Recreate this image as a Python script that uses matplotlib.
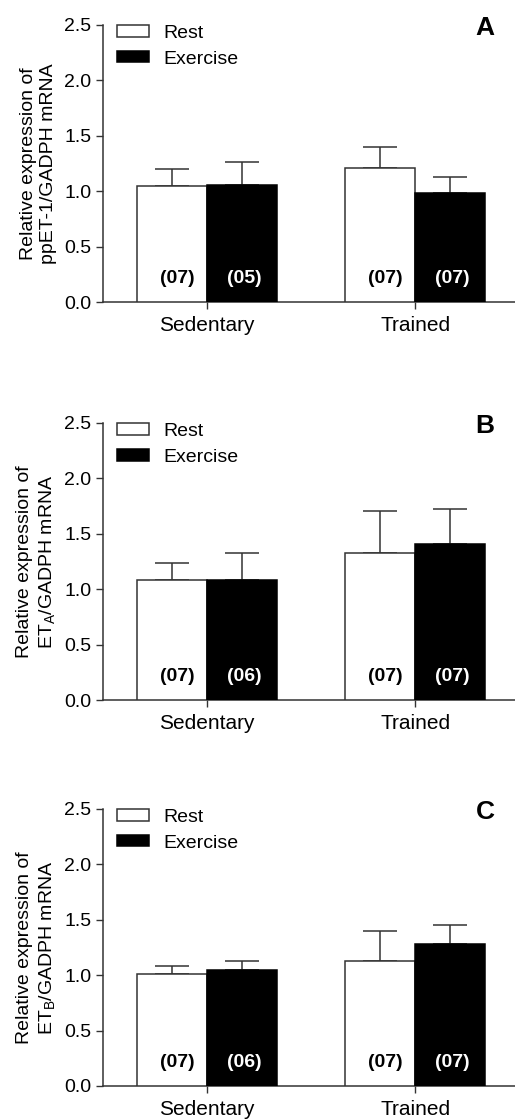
import numpy as np
import matplotlib
matplotlib.use('Agg')
import matplotlib.pyplot as plt

plt.rcParams['font.family'] = ['Liberation Sans', 'DejaVu Sans']
plt.rcParams['mathtext.fontset'] = 'custom'
plt.rcParams['mathtext.rm'] = 'Liberation Sans'
plt.rcParams['mathtext.it'] = 'Liberation Sans:italic'

# Datos
groups = ['Sedentary', 'Trained']

rest_A = [1.05, 1.21]
rest_A_err = [0.15, 0.19]
ex_A = [1.06, 0.98]
ex_A_err = [0.20, 0.15]
n_rest_A = ['(07)', '(07)']
n_ex_A = ['(05)', '(07)']

rest_B = [1.08, 1.33]
rest_B_err = [0.16, 0.38]
ex_B = [1.08, 1.41]
ex_B_err = [0.25, 0.31]
n_rest_B = ['(07)', '(07)']
n_ex_B = ['(06)', '(07)']

rest_C = [1.01, 1.13]
rest_C_err = [0.07, 0.27]
ex_C = [1.05, 1.28]
ex_C_err = [0.08, 0.17]
n_rest_C = ['(07)', '(07)']
n_ex_C = ['(06)', '(07)']

panels = [
    ('A', 'Relative expression of\nppET-1/GADPH mRNA', rest_A, rest_A_err, ex_A, ex_A_err, n_rest_A, n_ex_A),
    ('B', 'Relative expression of\nET$_\\mathrm{A}$/GADPH mRNA', rest_B, rest_B_err, ex_B, ex_B_err, n_rest_B, n_ex_B),
    ('C', 'Relative expression of\nET$_\\mathrm{B}$/GADPH mRNA', rest_C, rest_C_err, ex_C, ex_C_err, n_rest_C, n_ex_C),
]

edge = '#333333'
fig = plt.figure(figsize=(5.15, 11.19), dpi=100)
bottoms = [0.7301, 0.3744, 0.0295]
height = 0.2476
x = np.arange(len(groups))
w = 0.335

for (letter, ylabel, rest, rest_err, ex, ex_err, n_rest, n_ex), b in zip(panels, bottoms):
    ax = fig.add_axes([0.2, b, 0.8, height])
    ax.bar(x - w / 2, rest, w, color='white', edgecolor=edge, linewidth=1.1, label='Rest', zorder=3)
    ax.bar(x + w / 2, ex, w, color='black', edgecolor='black', linewidth=1.1, label='Exercise', zorder=3)
    ax.errorbar(x - w / 2, rest, yerr=[np.zeros(len(rest)), rest_err], fmt='none',
                ecolor=edge, elinewidth=1.1, capsize=12, capthick=1.1, zorder=2)
    ax.errorbar(x + w / 2, ex, yerr=[np.zeros(len(ex)), ex_err], fmt='none',
                ecolor=edge, elinewidth=1.1, capsize=12, capthick=1.1, zorder=2)
    for i in range(len(groups)):
        ax.text(x[i] - w / 2 + 0.025, 0.215, n_rest[i], ha='center', va='center',
                fontsize=14, fontweight='bold', color='black', zorder=4)
        ax.text(x[i] + w / 2 + 0.01, 0.215, n_ex[i], ha='center', va='center',
                fontsize=14, fontweight='bold', color='white', zorder=4)

    ax.set_xlim(-0.5, 1.48)
    ax.set_ylim(0, 2.5)
    ax.set_yticks([0.0, 0.5, 1.0, 1.5, 2.0, 2.5])
    ax.set_yticklabels(['0.0', '0.5', '1.0', '1.5', '2.0', '2.5'])
    ax.set_xticks(x)
    ax.set_xticklabels(groups)
    ax.tick_params(axis='both', length=5, width=1, color=edge, direction='out')
    ax.tick_params(axis='y', labelsize=14, pad=3.5)
    ax.tick_params(axis='x', labelsize=15, pad=5)
    for s in ['top', 'right']:
        ax.spines[s].set_visible(False)
    for s in ['left', 'bottom']:
        ax.spines[s].set_color(edge)
        ax.spines[s].set_linewidth(1.1)
    ax.set_ylabel(ylabel, fontsize=14, linespacing=1.25, labelpad=5)

    ax.legend(loc='upper left', bbox_to_anchor=(0.035, 1.0), frameon=False, fontsize=14,
              handlelength=1.6, handleheight=0.52, labelspacing=0.45, handletextpad=0.77,
              borderpad=0, borderaxespad=0)
    ax.text(0.927, 0.99, letter, transform=ax.transAxes, ha='center', va='center',
            fontsize=19, fontweight='bold')

fig.savefig('out.png', dpi=100)
